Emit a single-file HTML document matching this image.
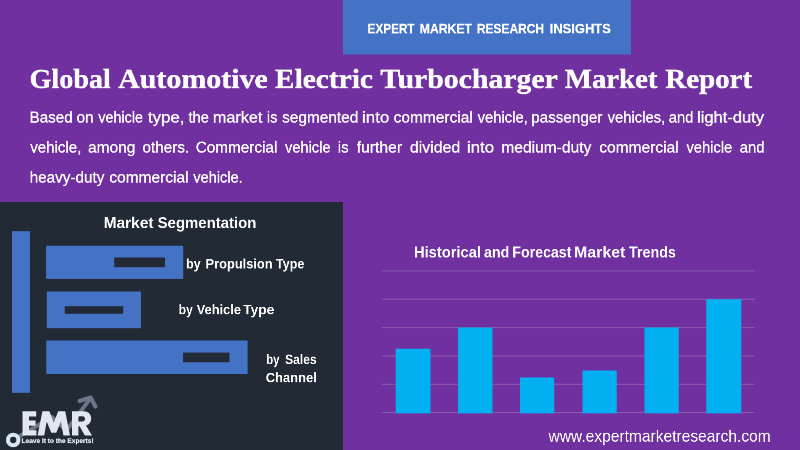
<!DOCTYPE html>
<html><head><meta charset="utf-8"><title>Global Automotive Electric Turbocharger Market Report</title>
<style>
html,body{margin:0;padding:0}
body{width:800px;height:450px;overflow:hidden;background:#7030A0;position:relative;font-family:"Liberation Sans",sans-serif}
.a{position:absolute}
.t{position:absolute;left:0;top:0;white-space:nowrap;line-height:1;transform-origin:0 0;will-change:transform;color:#fff}
.sb{font-family:"Liberation Sans",sans-serif;font-weight:700}
.sr{font-family:"Liberation Sans",sans-serif;font-weight:400}
.fb{font-family:"Liberation Serif",serif;font-weight:700}
.bd{font-size:30.6px;-webkit-text-stroke:0.6px #fff}
</style></head><body>
<svg class="a" style="left:0;top:0" width="800" height="450" viewBox="0 0 800 450">
<rect x="343" y="0" width="288" height="54.5" fill="#4472C4"/>
<rect x="0" y="202" width="343" height="248" fill="#222A35"/>
<rect x="12" y="231.2" width="18" height="161.6" fill="#4472C4"/>
<rect x="46.1" y="245.7" width="137.1" height="33.2" fill="#4472C4"/>
<rect x="114.25" y="257.5" width="50.75" height="9.7" fill="#222A35"/>
<rect x="46.8" y="291.5" width="94.2" height="36.7" fill="#4472C4"/>
<rect x="64.8" y="306.2" width="58.4" height="7.6" fill="#222A35"/>
<rect x="46.25" y="340.5" width="201.35" height="33.5" fill="#4472C4"/>
<rect x="183.1" y="352.6" width="46.4" height="9.6" fill="#222A35"/>
<rect x="381.6" y="270.40" width="373" height="1" fill="#8C5EAE"/>
<rect x="381.6" y="298.70" width="373" height="1" fill="#8C5EAE"/>
<rect x="381.6" y="327.10" width="373" height="1" fill="#8C5EAE"/>
<rect x="381.6" y="355.40" width="373" height="1" fill="#8C5EAE"/>
<rect x="381.6" y="383.80" width="373" height="1" fill="#8C5EAE"/>
<rect x="381.6" y="412.10" width="373" height="1" fill="#8C5EAE"/>
<rect x="395.75" y="348.75" width="34.75" height="64.55" fill="#00B0F0"/>
<rect x="458" y="327.5" width="34.5" height="85.8" fill="#00B0F0"/>
<rect x="520" y="377.5" width="34.25" height="35.8" fill="#00B0F0"/>
<rect x="582.5" y="370.5" width="34.25" height="42.8" fill="#00B0F0"/>
<rect x="644.5" y="327.5" width="34.25" height="85.8" fill="#00B0F0"/>
<rect x="706.25" y="299.25" width="35.0" height="114.05" fill="#00B0F0"/>
<path d="M13.3 440 L52 417 L66.5 430.5 L89.4 399.6" fill="none" stroke="#6C7686" stroke-width="4" stroke-linejoin="round"/>
<path d="M79.6 401 L90.6 397.6 L95.4 406.6" fill="none" stroke="#6C7686" stroke-width="4.2" stroke-linecap="round" stroke-linejoin="round"/>
<circle cx="13.2" cy="440" r="5.2" fill="#222A35" stroke="#D9E7F6" stroke-width="4.1"/>
<g fill="#E1E6F0" fill-rule="evenodd">
<path d="M22.5 411.2 H36.2 V416.6 H29 V420.6 H35.6 V425.7 H29 V430.2 H36.4 V435.6 H22.5 Z"/>
<path d="M37.6 435.6 L42.4 411.2 L49.4 411.2 L53.8 422.5 L58.2 411.2 L65.2 411.2 L70 435.6 L63.4 435.6 L60.9 421.5 L56.3 432.8 L51.3 432.8 L46.7 421.5 L44.2 435.6 Z"/>
<path d="M72 411.2 H83.5 C88.5 411.2 91.2 414.3 91.2 418.6 C91.2 422.3 89 424.8 86 425.6 L92 435.6 H84.8 L79.6 426.3 H78.4 V435.6 H72 Z M78.4 416.3 V421.4 H82.3 C84.2 421.4 85 420.3 85 418.8 C85 417.3 84.2 416.3 82.3 416.3 Z"/>
</g>
</svg>
<div class="t sb" style="-webkit-text-stroke:0.5px #fff;font-size:27.6px;transform:translate(367.56px,21.80px) scale(0.4257,0.5)">EXPERT</div>
<div class="t sb" style="-webkit-text-stroke:0.5px #fff;font-size:27.6px;transform:translate(419.74px,21.80px) scale(0.4429,0.5)">MARKET</div>
<div class="t sb" style="-webkit-text-stroke:0.5px #fff;font-size:27.6px;transform:translate(476.85px,21.80px) scale(0.4336,0.5)">RESEARCH</div>
<div class="t sb" style="-webkit-text-stroke:0.5px #fff;font-size:27.6px;transform:translate(549.70px,21.80px) scale(0.4688,0.5)">INSIGHTS</div>
<div class="t fb" style="-webkit-text-stroke:0.8px #fff;font-size:54.6px;transform:translate(29.57px,65.40px) scale(0.5145,0.5)">Global</div>
<div class="t fb" style="-webkit-text-stroke:0.8px #fff;font-size:54.6px;transform:translate(118.10px,65.40px) scale(0.5485,0.5)">Automotive</div>
<div class="t fb" style="-webkit-text-stroke:0.8px #fff;font-size:54.6px;transform:translate(274.93px,65.40px) scale(0.5391,0.5)">Electric</div>
<div class="t fb" style="-webkit-text-stroke:0.8px #fff;font-size:54.6px;transform:translate(380.33px,65.40px) scale(0.5451,0.5)">Turbocharger</div>
<div class="t fb" style="-webkit-text-stroke:0.8px #fff;font-size:54.6px;transform:translate(564.74px,65.40px) scale(0.5271,0.5)">Market</div>
<div class="t fb" style="-webkit-text-stroke:0.8px #fff;font-size:54.6px;transform:translate(665.34px,65.40px) scale(0.5300,0.5)">Report</div>
<div class="t sb" style="font-size:30.8px;transform:translate(103.59px,215.60px) scale(0.5031,0.5)">Market</div>
<div class="t sb" style="font-size:30.8px;transform:translate(157.61px,215.60px) scale(0.4851,0.5)">Segmentation</div>
<div class="t sb" style="font-size:27.4px;transform:translate(186.02px,257.00px) scale(0.4557,0.5)">by</div>
<div class="t sb" style="font-size:27.4px;transform:translate(205.50px,257.00px) scale(0.4693,0.5)">Propulsion</div>
<div class="t sb" style="font-size:27.4px;transform:translate(275.90px,257.00px) scale(0.4590,0.5)">Type</div>
<div class="t sb" style="font-size:27.4px;transform:translate(178.64px,302.80px) scale(0.4426,0.5)">by</div>
<div class="t sb" style="font-size:27.4px;transform:translate(196.70px,302.80px) scale(0.4684,0.5)">Vehicle</div>
<div class="t sb" style="font-size:27.4px;transform:translate(243.20px,302.80px) scale(0.5016,0.5)">Type</div>
<div class="t sb" style="font-size:27.4px;transform:translate(266.18px,352.60px) scale(0.4164,0.5)">by</div>
<div class="t sb" style="font-size:27.4px;transform:translate(285.06px,352.60px) scale(0.4417,0.5)">Sales</div>
<div class="t sb" style="font-size:27.4px;transform:translate(265.73px,370.80px) scale(0.4720,0.5)">Channel</div>
<div class="t sb" style="font-size:31.6px;transform:translate(413.97px,244.50px) scale(0.4650,0.5)">Historical</div>
<div class="t sb" style="font-size:31.6px;transform:translate(483.95px,244.50px) scale(0.4528,0.5)">and</div>
<div class="t sb" style="font-size:31.6px;transform:translate(512.35px,244.50px) scale(0.4479,0.5)">Forecast</div>
<div class="t sb" style="font-size:31.6px;transform:translate(574.09px,244.50px) scale(0.5035,0.5)">Market</div>
<div class="t sb" style="font-size:31.6px;transform:translate(629.00px,244.50px) scale(0.4527,0.5)">Trends</div>
<div class="t sr" style="font-size:32.8px;transform:translate(548.50px,428.20px) scale(0.4744,0.5)">www.expertmarketresearch.com</div>
<div class="t sb" style="-webkit-text-stroke:0.5px #E1E6F0;color:#E1E6F0;font-size:13.4px;transform:translate(21.56px,437.40px) scale(0.4884,0.5)">Leave it to the Experts!</div>
<div class="t sr bd" style="transform:translate(29.51px,109.60px) scale(0.4970,0.5)">Based</div>
<div class="t sr bd" style="transform:translate(76.50px,109.60px) scale(0.5038,0.5)">on</div>
<div class="t sr bd" style="transform:translate(98.35px,109.60px) scale(0.4685,0.5)">vehicle</div>
<div class="t sr bd" style="transform:translate(147.88px,109.60px) scale(0.5527,0.5)">type,</div>
<div class="t sr bd" style="transform:translate(188.50px,109.60px) scale(0.4790,0.5)">the</div>
<div class="t sr bd" style="transform:translate(212.84px,109.60px) scale(0.5299,0.5)">market</div>
<div class="t sr bd" style="transform:translate(266.92px,109.60px) scale(0.4750,0.5)">is</div>
<div class="t sr bd" style="transform:translate(282.13px,109.60px) scale(0.5033,0.5)">segmented</div>
<div class="t sr bd" style="transform:translate(362.05px,109.60px) scale(0.5532,0.5)">into</div>
<div class="t sr bd" style="transform:translate(393.62px,109.60px) scale(0.5065,0.5)">commercial</div>
<div class="t sr bd" style="transform:translate(477.62px,109.60px) scale(0.4840,0.5)">vehicle,</div>
<div class="t sr bd" style="transform:translate(531.25px,109.60px) scale(0.4974,0.5)">passenger</div>
<div class="t sr bd" style="transform:translate(607.62px,109.60px) scale(0.4839,0.5)">vehicles,</div>
<div class="t sr bd" style="transform:translate(668.77px,109.60px) scale(0.4821,0.5)">and</div>
<div class="t sr bd" style="transform:translate(697.07px,109.60px) scale(0.5396,0.5)">light-duty</div>
<div class="t sr bd" style="transform:translate(30.25px,139.60px) scale(0.4923,0.5)">vehicle,</div>
<div class="t sr bd" style="transform:translate(88.03px,139.60px) scale(0.5059,0.5)">among</div>
<div class="t sr bd" style="transform:translate(142.42px,139.60px) scale(0.5004,0.5)">others.</div>
<div class="t sr bd" style="transform:translate(195.79px,139.60px) scale(0.4995,0.5)">Commercial</div>
<div class="t sr bd" style="transform:translate(285.03px,139.60px) scale(0.4781,0.5)">vehicle</div>
<div class="t sr bd" style="transform:translate(337.81px,139.60px) scale(0.4895,0.5)">is</div>
<div class="t sr bd" style="transform:translate(356.67px,139.60px) scale(0.5131,0.5)">further</div>
<div class="t sr bd" style="transform:translate(409.90px,139.60px) scale(0.5189,0.5)">divided</div>
<div class="t sr bd" style="transform:translate(466.96px,139.60px) scale(0.5515,0.5)">into</div>
<div class="t sr bd" style="transform:translate(501.28px,139.60px) scale(0.5095,0.5)">medium-duty</div>
<div class="t sr bd" style="transform:translate(599.28px,139.60px) scale(0.5076,0.5)">commercial</div>
<div class="t sr bd" style="transform:translate(686.53px,139.60px) scale(0.4794,0.5)">vehicle</div>
<div class="t sr bd" style="transform:translate(739.68px,139.60px) scale(0.4862,0.5)">and</div>
<div class="t sr bd" style="transform:translate(29.65px,169.60px) scale(0.4995,0.5)">heavy-duty</div>
<div class="t sr bd" style="transform:translate(109.32px,169.60px) scale(0.5065,0.5)">commercial</div>
<div class="t sr bd" style="transform:translate(193.32px,169.60px) scale(0.4757,0.5)">vehicle.</div>
</body></html>
